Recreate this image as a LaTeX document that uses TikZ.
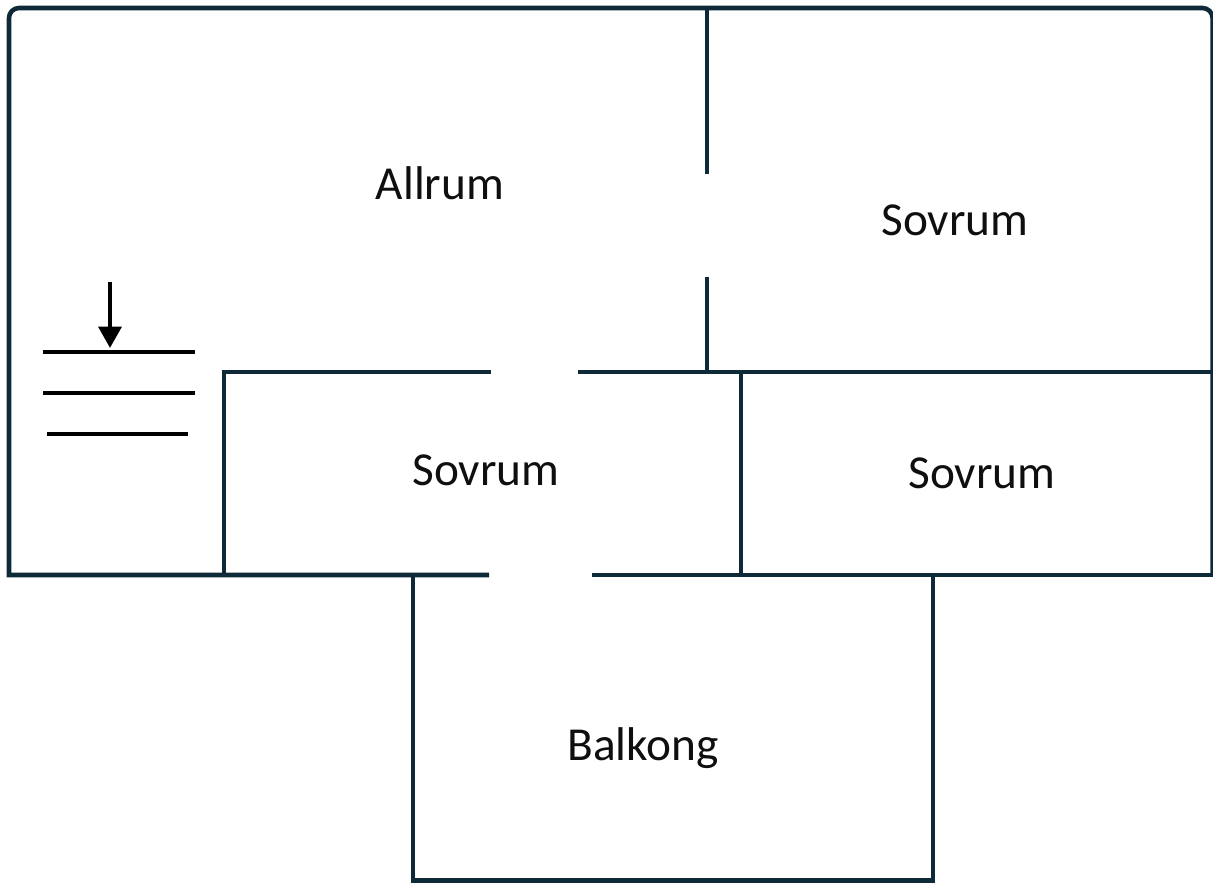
\documentclass[tikz,border=0pt]{standalone}
\usepackage{fontspec}
\setmainfont{Carlito}
\usetikzlibrary{arrows.meta}
\definecolor{wallc}{RGB}{14,41,56}
\definecolor{txt}{RGB}{15,15,15}
\tikzset{
  wall/.style={draw=wallc, line width=3.4pt},
  stair/.style={draw=black, line width=3.2pt},
  room/.style={anchor=base, text=txt, inner sep=0pt, font=\fontsize{35.5}{40}\selectfont}
}
\begin{document}
\begin{tikzpicture}[x=0.75pt, y=-0.75pt]
\useasboundingbox (0,0) rectangle (1213,882);
% outer frame
\draw[wall] (1212.5,575) -- (1212.5,18) arc[start angle=0, end angle=-90, radius=10]
  -- (19,8) arc[start angle=-90, end angle=-180, radius=10] -- (9,575) -- (489,575);
% wall between Allrum and Sovrum (with door gap)
\draw[wall] (707,8) -- (707,174);
\draw[wall] (707,277) -- (707,372);
% horizontal wall y=372
\draw[wall] (491,372) -- (224,372) -- (224,575);
\draw[wall] (578,372) -- (1213,372);
% wall between bedrooms
\draw[wall] (741,372) -- (741,575);
% bottom wall right part
\draw[wall] (592,575) -- (1213,575);
% balcony
\draw[wall] (413,575) -- (413,880.5) -- (933,880.5) -- (933,575);
% stairs
\coordinate (arrS) at (110,282);
\coordinate (arrE) at (110,348);
\draw[stair] (43,352) -- (195,352);
\draw[stair] (43,393) -- (195,393);
\draw[stair] (47,434) -- (188,434);
\draw[stair, -{Triangle[width=17pt,length=16pt]}] (arrS) -- (arrE);
% labels
\node[room] (allrum) at (440,199) {Allrum};
\node[room] (sov1) at (955,235) {Sovrum};
\node[room] (sov2) at (486,485) {Sovrum};
\node[room] (sov3) at (982,488) {Sovrum};
\node[room] (balk) at (643,760) {Balkong};
\end{tikzpicture}
\end{document}
